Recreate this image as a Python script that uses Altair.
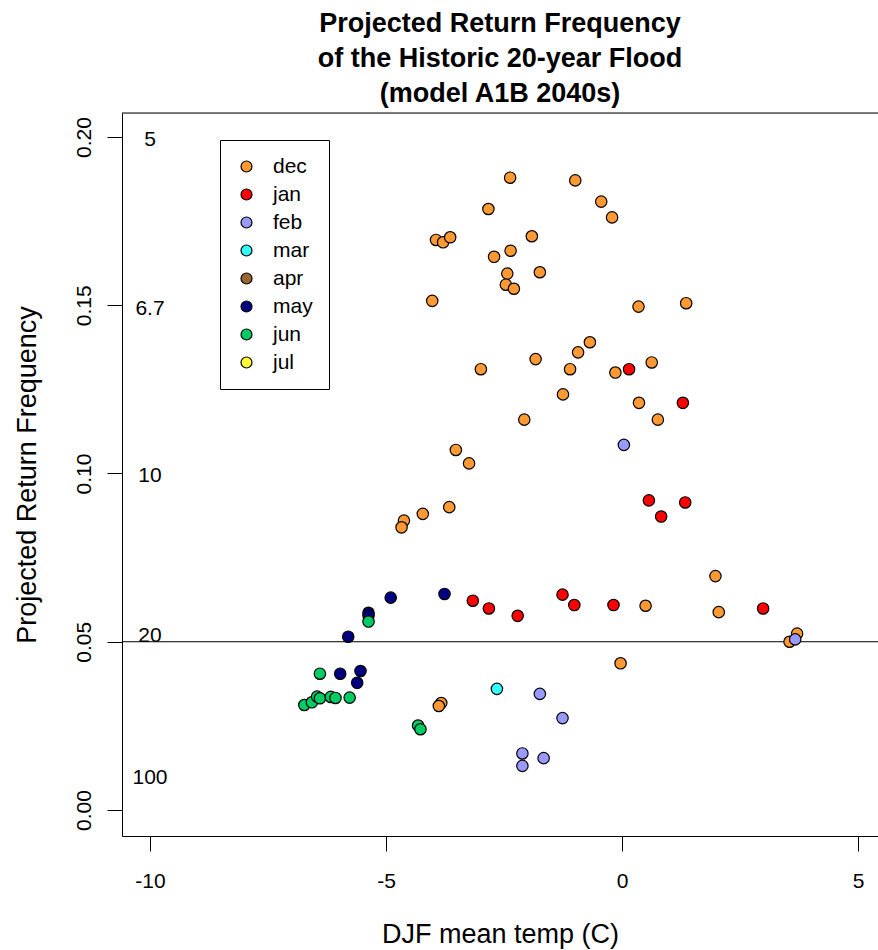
import altair as alt
import pandas as pd

FONT = "Liberation Sans"

months = ["dec", "jan", "feb", "mar", "apr", "may", "jun", "jul"]
month_colors = ["#FF9933", "#FF0000", "#9999FF", "#33FFFF", "#996633", "#000080", "#00CC66", "#FFFF33"]

dec_x = [-2.37, -0.99, -2.83, -0.44, -0.21, -3.94, -3.79, -3.64, -1.91, -2.71, -2.36, -2.43, -1.74,
         -2.46, -2.29, -4.02, 0.35, 1.36, -2.99, -1.83, -0.68, -0.93, -1.10, -0.14, 0.63, -1.25,
         0.36, -2.07, 0.76, -3.52, -3.24, -3.66, -4.22, -4.62, -4.67, 0.50, 1.98, 2.05, 3.71, 3.55,
         -0.03, -3.83, -3.88]
dec_y = [0.1879, 0.1871, 0.1786, 0.1808, 0.1761, 0.1694, 0.1687, 0.1702, 0.1705, 0.1644, 0.1662,
         0.1594, 0.1598, 0.1561, 0.1549, 0.1513, 0.1496, 0.1506, 0.131, 0.134, 0.139, 0.136, 0.131,
         0.130, 0.133, 0.1235, 0.121, 0.116, 0.116, 0.107, 0.103, 0.090, 0.088, 0.086, 0.084,
         0.0607, 0.0695, 0.0588, 0.0524, 0.0500, 0.0436, 0.0318, 0.0309]

jan_x = [0.15, 1.29, 0.57, 1.34, 0.83, -3.16, -2.82, -2.21, -1.26, -1.01, -0.18, 2.99]
jan_y = [0.131, 0.121, 0.092, 0.0914, 0.0872, 0.0622, 0.0599, 0.0577, 0.0640, 0.0609, 0.0609, 0.0599]

feb_x = [0.04, 3.67, -1.74, -1.26, -2.11, -2.11, -1.66]
feb_y = [0.1085, 0.0507, 0.0345, 0.0273, 0.0168, 0.0131, 0.0154]

mar_x = [-2.65]
mar_y = [0.0360]

may_x = [-4.90, -3.76, -5.37, -5.37, -5.80, -5.97, -5.54, -5.61]
may_y = [0.0631, 0.0642, 0.0586, 0.0578, 0.0515, 0.0405, 0.0413, 0.0378]

jun_x = [-5.37, -6.40, -6.73, -6.57, -6.46, -6.40, -6.17, -6.07, -5.77, -4.32, -4.27]
jun_y = [0.0560, 0.0405, 0.0312, 0.0320, 0.0337, 0.0332, 0.0336, 0.0333, 0.0334, 0.0251, 0.0240]

rp_labels = ["5", "6.7", "10", "20", "100"]
rp_x = [-10, -10, -10, -10, -10]
rp_y = [0.199, 0.149, 0.0993, 0.0517, 0.0095]

ref_line_y = [0.05]

x_ticks = [-10, -5, 0, 5]
y_ticks = [0.0, 0.05, 0.10, 0.15, 0.20]

series = [("dec", dec_x, dec_y), ("jan", jan_x, jan_y), ("feb", feb_x, feb_y),
          ("mar", mar_x, mar_y), ("may", may_x, may_y), ("jun", jun_x, jun_y)]
rows = []
for m, xs, ys in series:
    for xv, yv in zip(xs, ys):
        rows.append({"temp": xv, "freq": yv, "month": m})
df = pd.DataFrame(rows)

W, H = 756, 723
xscale = alt.Scale(domain=[-10.593, 5.424], nice=False, zero=False)
yscale = alt.Scale(domain=[-0.00773, 0.20713], nice=False, zero=False)

x_axis = alt.Axis(values=x_ticks, labelExpr="'' + datum.value", title="DJF mean temp (C)",
                  grid=False, tickSize=15, tickColor="black", domainColor="black",
                  labelFontSize=21, labelFont=FONT, labelColor="black",
                  labelBaseline="alphabetic", labelPadding=36, labelFlush=False,
                  titleFontSize=27, titleFont=FONT, titleFontWeight="normal", titleColor="black",
                  titleY=106, titleBaseline="alphabetic")
y_axis = alt.Axis(values=y_ticks, format=".2f", title="Projected Return Frequency",
                  grid=False, tickSize=15, tickColor="black", domainColor="black",
                  labelFontSize=21, labelFont=FONT, labelColor="black",
                  labelAngle=270, labelAlign="center", labelBaseline="alphabetic",
                  labelPadding=17, labelFlush=False,
                  titleFontSize=27, titleFont=FONT, titleFontWeight="normal", titleColor="black",
                  titleAngle=270, titleX=-87, titleBaseline="alphabetic")

points = alt.Chart(df).mark_circle(size=130, stroke="black", strokeWidth=1.2, opacity=1).encode(
    x=alt.X("temp:Q", scale=xscale, axis=x_axis),
    y=alt.Y("freq:Q", scale=yscale, axis=y_axis),
    color=alt.Color("month:N", scale=alt.Scale(domain=months, range=month_colors),
                    legend=alt.Legend(title=None, orient="none", legendX=98, legendY=27,
                                      strokeColor="black", fillColor="white", padding=16,
                                      labelFontSize=21, labelFont=FONT, labelColor="black",
                                      symbolType="circle", symbolSize=120,
                                      symbolStrokeColor="black", symbolStrokeWidth=1.2,
                                      symbolOpacity=1, rowPadding=6, labelOffset=16)),
)

ref_rule = alt.Chart(pd.DataFrame({"y": ref_line_y})).mark_rule(color="black", strokeWidth=1).encode(
    y=alt.Y("y:Q", scale=yscale)
)

rp_text = alt.Chart(pd.DataFrame({"label": rp_labels, "x": rp_x, "y": rp_y})).mark_text(
    fontSize=21, font=FONT, color="black", align="center", baseline="middle"
).encode(
    x=alt.X("x:Q", scale=xscale),
    y=alt.Y("y:Q", scale=yscale),
    text="label:N",
)

top_border = alt.Chart(pd.DataFrame({"a": [0]})).mark_rule(color="black", strokeWidth=1).encode(
    x=alt.value(0), x2=alt.value(W), y=alt.value(0)
)

chart = alt.layer(ref_rule, rp_text, points, top_border).properties(
    width=W, height=H,
    padding={"left": 122, "top": 113, "right": 0, "bottom": 114},
    autosize=alt.AutoSizeParams(type="none"),
    title=alt.TitleParams(
        text=["Projected Return Frequency", "of the Historic 20-year Flood", "(model A1B 2040s)"],
        font=FONT, fontSize=27, fontWeight="bold", color="black",
        anchor="middle", frame="group", lineHeight=35, offset=5,
    ),
).configure_view(stroke="transparent").configure(background="white")

chart.save("out.html", embed_options={"renderer": "svg", "actions": False})
